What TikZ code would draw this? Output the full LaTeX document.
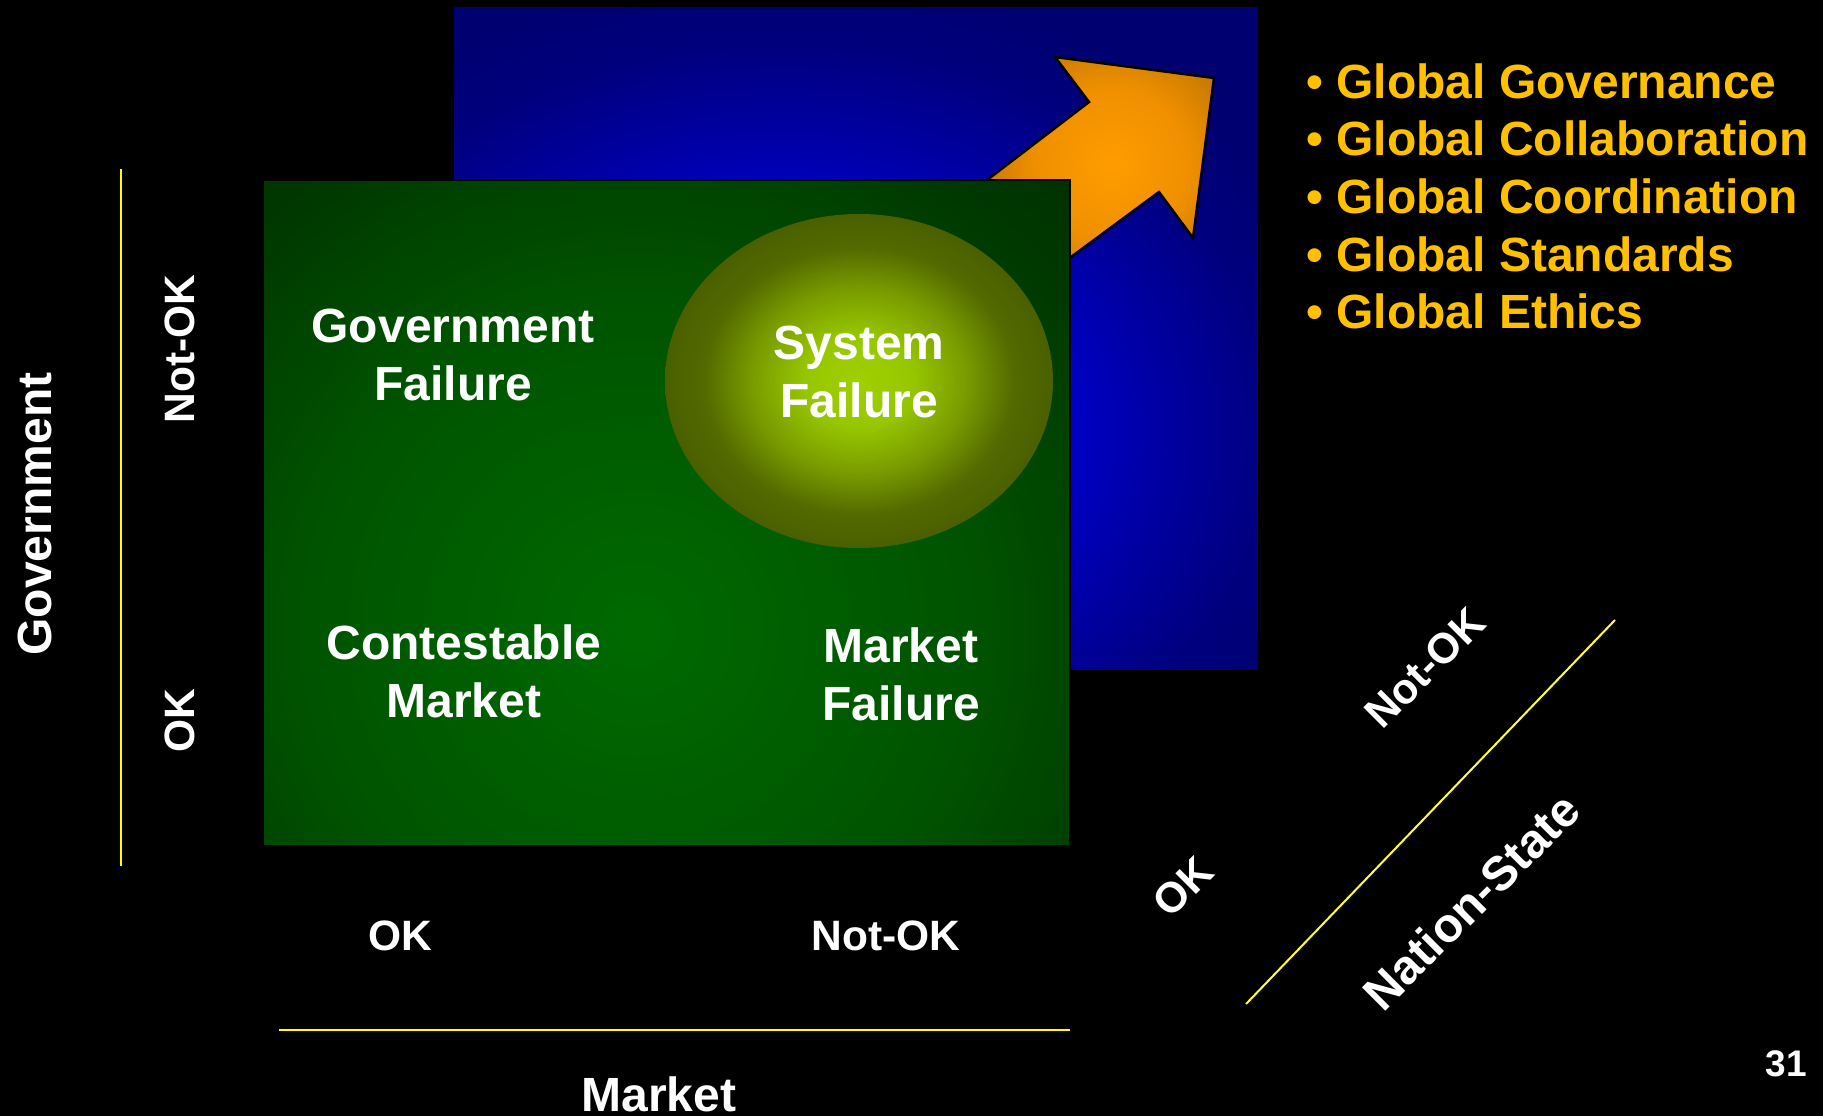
\documentclass[tikz,border=0pt]{standalone}
\usepackage{fontspec}
\setmainfont{Liberation Sans}
\definecolor{blueC}{HTML}{0000E0}
\definecolor{blueM}{HTML}{0000D0}
\definecolor{blueN}{HTML}{0000A4}
\definecolor{blueD}{HTML}{00007E}
\definecolor{blueE}{HTML}{000070}
\definecolor{greenC}{HTML}{006A00}
\definecolor{greenB}{HTML}{005400}
\definecolor{greenM}{HTML}{003800}
\definecolor{greenE}{HTML}{002C00}
\definecolor{ellC}{HTML}{A0D000}
\definecolor{ellB}{HTML}{96C600}
\definecolor{ellN}{HTML}{789A00}
\definecolor{ellM}{HTML}{526A00}
\definecolor{ellE}{HTML}{4A6000}
\definecolor{orC}{HTML}{FF9C00}
\definecolor{orB}{HTML}{F09000}
\definecolor{orM}{HTML}{B87000}
\definecolor{orE}{HTML}{7A4E00}
\definecolor{gold}{HTML}{FFC000}
\definecolor{axisyellow}{HTML}{FFFF00}
\pgfdeclareradialshading{bluesh}{\pgfpoint{0bp}{0bp}}{color(0bp)=(blueC); color(11bp)=(blueM); color(16bp)=(blueN); color(21bp)=(blueD); color(25bp)=(blueE); color(50bp)=(blueE)}
\pgfdeclareradialshading{greensh}{\pgfpoint{0bp}{0bp}}{color(0bp)=(greenC); color(12bp)=(greenB); color(20bp)=(greenM); color(25bp)=(greenE); color(50bp)=(greenE)}
\pgfdeclareradialshading{ellsh}{\pgfpoint{0bp}{0bp}}{color(0bp)=(ellC); color(7bp)=(ellB); color(14bp)=(ellN); color(20bp)=(ellM); color(25bp)=(ellE); color(50bp)=(ellE)}
\pgfdeclareradialshading{orsh}{\pgfpoint{0bp}{0bp}}{color(0bp)=(orC); color(10bp)=(orB); color(20bp)=(orM); color(25bp)=(orE); color(50bp)=(orE)}
\tikzset{
  lbl/.style={text=white, font=\bfseries\fontsize{48}{58}\selectfont, align=center, inner sep=0pt},
  axlbl/.style={text=white, font=\bfseries\fontsize{42.5}{50}\selectfont, inner sep=0pt},
  bul/.style={text=gold, font=\bfseries\fontsize{48}{58}\selectfont, anchor=base west, inner sep=0pt},
  axisline/.style={draw=axisyellow, line width=2.5pt},
}
\begin{document}
\begin{tikzpicture}[x=1pt,y=-1pt]
\fill[black] (0,0) rectangle (1823,1116);
\useasboundingbox (0,0) rectangle (1823,1116);
% blue back panel
\begin{scope}
  \clip (453,6) rectangle (1259,671);
  \shade[shading=bluesh] (190,-30) rectangle (1370,890);
\end{scope}
\draw[black, line width=1.5pt] (453,6) rectangle (1259,671);
% arrow
\coordinate (a1) at (936,219);
\coordinate (a2) at (1089,102);
\coordinate (a3) at (1055,57);
\coordinate (a4) at (1214,78);
\coordinate (a5) at (1193,238);
\coordinate (a6) at (1159,192);
\coordinate (a7) at (1025,291);
\begin{scope}
  \clip (a1) -- (a2) -- (a3) -- (a4) -- (a5) -- (a6) -- (a7) -- cycle;
  \shade[shading=orsh] (1112,165) circle (190);
\end{scope}
\draw[black, line width=2.5pt, line join=miter] (a1) -- (a2) -- (a3) -- (a4) -- (a5) -- (a6) -- (a7) -- cycle;
% green panel
\begin{scope}
  \clip (263,180) rectangle (1070,846);
  \shade[shading=greensh] (637,630) circle (680);
\end{scope}
\draw[black, line width=2pt] (263,180) rectangle (1070,846);
% ellipse
\shade[shading=ellsh] (859,381) ellipse [x radius=194, y radius=167];
% quadrant labels
\node[lbl] (gf) at (453,355) {Government\\Failure};
\node[lbl] (sf) at (859,372) {System\\Failure};
\node[lbl] (cm) at (464,671) {Contestable\\Market};
\node[lbl] (mf) at (901,674) {Market\\Failure};
% government axis
\coordinate (v1) at (121,169);
\coordinate (v2) at (121,866);
\draw[axisline] (v1) -- (v2);
\node[lbl, rotate=90] (gov) at (35,514) {Government};
\node[axlbl, rotate=90] (gnok) at (180,349) {Not-OK};
\node[axlbl, rotate=90] (gok) at (180,721) {OK};
% market axis
\coordinate (h1) at (279,1030);
\coordinate (h2) at (1070,1030);
\draw[axisline, line width=2pt] (h1) -- (h2);
\node[axlbl] (mok) at (400,936) {OK};
\node[axlbl] (mnok) at (886,936) {Not-OK};
\node[lbl] (mkt) at (659,1094) {Market};
% nation-state axis
\coordinate (d1) at (1246,1004);
\coordinate (d2) at (1615,620);
\draw[draw=axisyellow!80!white, line width=2pt] (d1) -- (d2);
\node[axlbl, rotate=45] (nnok) at (1425,668) {Not-OK};
\node[axlbl, rotate=45] (nok) at (1183,887) {OK};
\node[lbl, rotate=45] (ns) at (1471,901) {Nation-State};
% bullet list
\node[bul] (g1) at (1306,98) {\textbullet{} Global Governance};
\node[bul] (g2) at (1306,155.7) {\textbullet{} Global Collaboration};
\node[bul] (g3) at (1306,213.4) {\textbullet{} Global Coordination};
\node[bul] (g4) at (1306,271.1) {\textbullet{} Global Standards};
\node[bul] (g5) at (1306,328.8) {\textbullet{} Global Ethics};
% page number
\node[text=white, font=\bfseries\fontsize{37}{44}\selectfont, inner sep=0pt] (pn) at (1786,1064) {31};
\end{tikzpicture}
\end{document}
